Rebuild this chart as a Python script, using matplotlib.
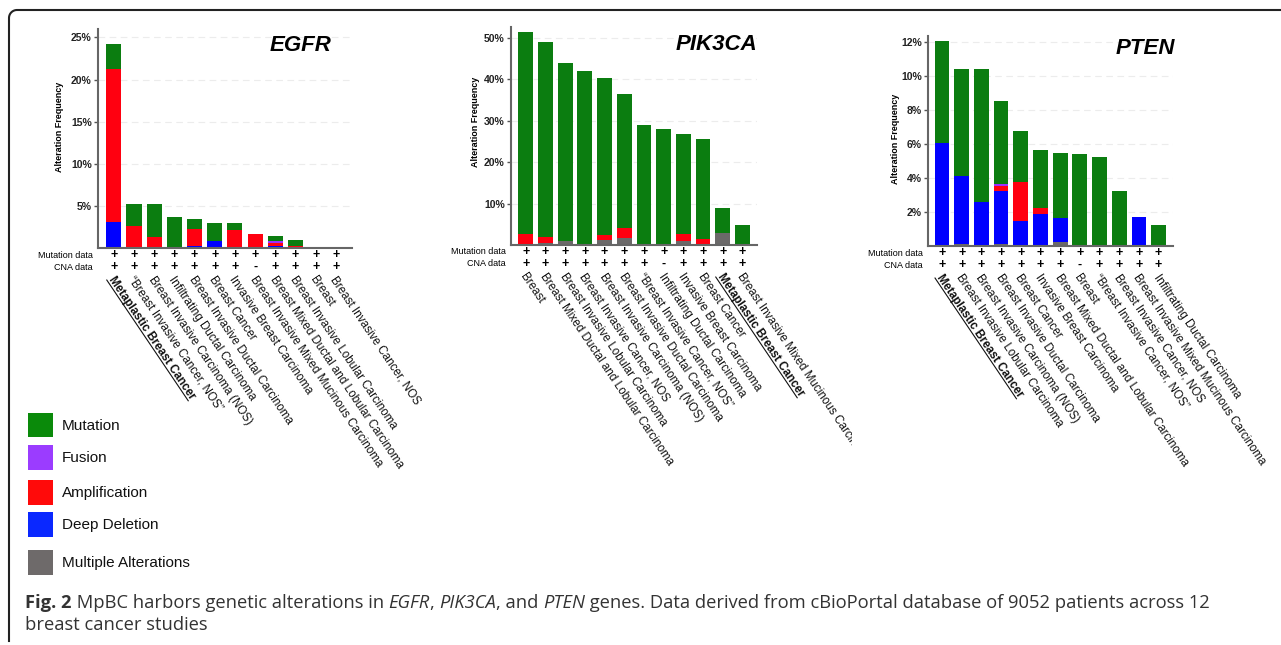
import numpy as np
import matplotlib.pyplot as plt
from matplotlib.patches import Rectangle
from matplotlib.lines import Line2D
from matplotlib.transforms import Bbox, IdentityTransform

plt.rcParams['font.family'] = ['Liberation Sans', 'DejaVu Sans']

W, H = 1281, 645

# ---- data (alteration frequency, %) ----
alt_types = ['Mutation', 'Fusion', 'Amplification', 'Deep Deletion', 'Multiple Alterations']
alt_colors = ['#0b7d10', '#9b30ff', '#ff0010', '#0000ff', '#6b6969']
legend_colors = ['#0a8a0a', '#9b3cff', '#ff0a0a', '#0a28ff', '#6e6a6a']

egfr_labels = ['Metaplastic Breast Cancer', '\u201cBreast Invasive Cancer, NOS\u201d',
               'Breast Invasive Carcinoma (NOS)', 'Infiltrating Ductal Carcinoma',
               'Breast Invasive Ductal Carcinoma', 'Breast Cancer', 'Invasive Breast Carcinoma',
               'Breast Invasive Mixed Mucinous Carcinoma', 'Breast Mixed Ductal and Lobular Carcinoma',
               'Breast Invasive Lobular Carcinoma', 'Breast', 'Breast Invasive Cancer, NOS']
egfr_cna = ['+', '+', '+', '+', '+', '+', '+', '-', '+', '+', '+', '+']
egfr_mut = [3.05, 2.68, 3.9, 3.65, 1.19, 2.2, 0.84, 0, 0.6, 0.74, 0, 0]
egfr_fus = [0, 0, 0, 0, 0, 0, 0, 0, 0.23, 0, 0, 0]
egfr_amp = [18.14, 2.6, 1.3, 0, 2.02, 0, 2.04, 1.67, 0.36, 0.2, 0, 0]
egfr_del = [3.06, 0, 0, 0, 0.24, 0.8, 0.1, 0, 0.24, 0.05, 0, 0]
egfr_mult = [0] * 12

pik_labels = ['Breast', 'Breast Mixed Ductal and Lobular Carcinoma', 'Breast Invasive Lobular Carcinoma',
              'Breast Invasive Cancer, NOS', 'Breast Invasive Carcinoma (NOS)',
              'Breast Invasive Ductal Carcinoma', '\u201cBreast Invasive Cancer, NOS\u201d',
              'Infiltrating Ductal Carcinoma', 'Invasive Breast Carcinoma', 'Breast Cancer',
              'Metaplastic Breast Cancer', 'Breast Invasive Mixed Mucinous Carcinoma']
pik_cna = ['+', '+', '+', '+', '+', '+', '+', '-', '+', '+', '+', '+']
pik_mut = [48.93, 47.25, 42.9, 42.0, 37.8, 32.5, 28.9, 28.1, 24.13, 24.13, 6.0, 4.8]
pik_fus = [0] * 12
pik_amp = [2.57, 1.45, 0.1, 0, 1.2, 2.4, 0, 0, 1.67, 1.37, 0, 0]
pik_del = [0] * 12
pik_mult = [0, 0.4, 0.9, 0, 1.3, 1.6, 0, 0, 0.9, 0, 3.0, 0]

pten_labels = ['Metaplastic Breast Cancer', 'Breast Invasive Lobular Carcinoma',
               'Breast Invasive Carcinoma (NOS)', 'Breast Invasive Ductal Carcinoma', 'Breast Cancer',
               'Invasive Breast Carcinoma', 'Breast Mixed Ductal and Lobular Carcinoma', 'Breast',
               '\u201cBreast Invasive Cancer, NOS\u201d', 'Breast Invasive Cancer, NOS',
               'Breast Invasive Mixed Mucinous Carcinoma', 'Infiltrating Ductal Carcinoma']
pten_cna = ['+', '+', '+', '+', '+', '+', '+', '-', '+', '+', '+', '+']
pten_mut = [6.06, 6.29, 7.8, 4.89, 2.99, 3.4, 3.82, 5.41, 5.27, 3.24, 0, 1.22]
pten_fus = [0, 0, 0, 0.12, 0, 0, 0, 0, 0, 0, 0, 0]
pten_amp = [0, 0, 0, 0.34, 2.28, 0.37, 0, 0, 0, 0, 0, 0]
pten_del = [6.04, 4.05, 2.6, 3.12, 1.5, 1.89, 1.39, 0, 0, 0, 1.69, 0]
pten_mult = [0, 0.1, 0, 0.1, 0, 0, 0.24, 0, 0, 0, 0, 0]

egfr_ticks = [5, 10, 15, 20, 25]
pik_ticks = [10, 20, 30, 40, 50]
pten_ticks = [2, 4, 6, 8, 10, 12]

# caption pieces: (text, weight, style)
caption1 = [('Fig. 2', 'bold', 'normal'), (' MpBC harbors genetic alterations in ', 'normal', 'normal'),
            ('EGFR', 'normal', 'italic'), (', ', 'normal', 'normal'), ('PIK3CA', 'normal', 'italic'),
            (', and ', 'normal', 'normal'), ('PTEN', 'normal', 'italic'),
            (' genes. Data derived from cBioPortal database of 9052 patients across 12', 'normal', 'normal')]
caption2 = 'breast cancer studies'


def px(x, y):
    return x / W, 1 - y / H


fig = plt.figure(figsize=(W / 100, H / 100), dpi=100)
renderer = fig.canvas.get_renderer()

panels = [
    # gene, rect(px: left, top, right, bottom), xlim, ylim, ticks, labels, cna, layers, title pos, ylabel pos, clip
    ('EGFR', (98, 29, 352, 248), (-0.78, 11.8), 26.0, egfr_ticks, egfr_labels, egfr_cna,
     [egfr_mult, egfr_del, egfr_amp, egfr_fus, egfr_mut], (0.92, 0.925), (-0.134, 0.553), None),
    ('PIK3CA', (511, 27, 757, 245), (-0.75, 11.74), 52.6, pik_ticks, pik_labels, pik_cna,
     [pik_mult, pik_del, pik_amp, pik_fus, pik_mut], (1.0, 0.92), (-0.126, 0.564), 852),
    ('PTEN', (928, 36, 1173, 246), (-0.71, 11.73), 12.37, pten_ticks, pten_labels, pten_cna,
     [pten_mult, pten_del, pten_amp, pten_fus, pten_mut], (1.008, 0.94), (-0.114, 0.51), None),
]
layer_colors = [alt_colors[4], alt_colors[3], alt_colors[2], alt_colors[1], alt_colors[0]]
rot = -56
lab_fs = 8.4
lab_off = (2, -26)

for gene, rect, xlim, ymax, ticks, labels, cna, layers, tpos, ypos, clip in panels:
    l, t, r, b = rect
    ax = fig.add_axes([l / W, 1 - b / H, (r - l) / W, (b - t) / H])
    x = np.arange(len(labels))
    bottom = np.zeros(len(labels))
    for vals, col in zip(layers, layer_colors):
        ax.bar(x, vals, 0.75, bottom=bottom, color=col, zorder=2, linewidth=0)
        bottom += np.array(vals)
    ax.set_xlim(*xlim)
    ax.set_ylim(0, ymax)
    for tk in ticks:
        ax.axhline(tk, color='#ececec', ls=(0, (6, 4)), lw=0.8, zorder=0)
    ax.set_yticks(ticks)
    ax.set_yticklabels([f'{tk}%' for tk in ticks], fontweight='bold', fontsize=7.5, color='#222')
    ax.set_xticks([])
    ax.tick_params(axis='y', length=3, width=1, color='#555', pad=1.5)
    for s in ['top', 'right']:
        ax.spines[s].set_visible(False)
    for s in ['left', 'bottom']:
        ax.spines[s].set_color('#666')
        ax.spines[s].set_linewidth(1.5)
    ax.set_ylabel('Alteration Frequency', fontweight='bold', fontsize=6.5)
    ax.yaxis.set_label_coords(*ypos)
    ax.text(tpos[0], tpos[1], gene, transform=ax.transAxes, ha='right', va='center',
            fontsize=16, fontweight='bold', fontstyle='italic')

    # row labels
    ax.annotate('Mutation data', xy=(0, 0), xycoords='axes fraction', xytext=(-5, -7),
                textcoords='offset pixels', ha='right', va='center', fontsize=6.5)
    ax.annotate('CNA data', xy=(0, 0), xycoords='axes fraction', xytext=(-5, -19),
                textcoords='offset pixels', ha='right', va='center', fontsize=6.5)
    for i in range(len(labels)):
        ax.annotate('+', xy=(i, 0), xycoords=('data', 'axes fraction'), xytext=(0, -7),
                    textcoords='offset pixels', ha='center', va='center', fontsize=9, fontweight='bold')
        ax.annotate(cna[i], xy=(i, 0), xycoords=('data', 'axes fraction'), xytext=(0, -19),
                    textcoords='offset pixels', ha='center', va='center', fontsize=9, fontweight='bold')

    # rotated category labels
    yd = ax.transAxes.transform((0, 0))[1]
    for i, lab in enumerate(labels):
        bold = lab.startswith('Metaplastic')
        txt = ax.annotate(lab, xy=(i, 0), xycoords=('data', 'axes fraction'), xytext=lab_off,
                          textcoords='offset pixels', rotation=rot, rotation_mode='anchor',
                          ha='left', va='top', fontsize=lab_fs, color='#111',
                          fontweight='bold' if bold else 'normal', annotation_clip=False)
        if clip is not None:
            txt.set_clip_on(True)
            txt.set_clip_box(Bbox([[0, 0], [clip, H]]))
        if bold:
            tmp = fig.text(0, 0, lab, fontsize=lab_fs, fontweight='bold')
            bb = tmp.get_window_extent(renderer)
            tmp.remove()
            xd = ax.transData.transform((i, 0))[0]
            anchor = np.array([xd + lab_off[0], yd + lab_off[1]])
            th = np.deg2rad(rot)
            u = np.array([np.cos(th), np.sin(th)])
            n = np.array([np.sin(th), -np.cos(th)])
            p0 = anchor + n * bb.height * 0.9
            p1 = p0 + u * bb.width
            fig.add_artist(Line2D([p0[0], p1[0]], [p0[1], p1[1]], transform=IdentityTransform(),
                                  color='#111', lw=0.8))

# legend
leg_rows = [(413, 437), (445, 470), (480, 505), (512, 537), (550, 575)]
for name, col, (yt, yb) in zip(alt_types, legend_colors, leg_rows):
    x0, y0 = px(28, yb)
    fig.add_artist(Rectangle((x0, y0), 25 / W, (yb - yt) / H, transform=fig.transFigure,
                             color=col, lw=0))
    fig.text(*px(62, (yt + yb) / 2 + 1), name, va='center', ha='left', fontsize=11, color='#111')

# caption, written piece by piece so bold / italic runs line up
cap_fs = 13.2
cap_kw = dict(fontsize=cap_fs, family='Open Sans', color='#333')


def run_width(s, weight, style):
    # pad with bars so leading/trailing spaces are counted
    t1 = fig.text(0, 0, '|' + s + '|', fontweight=weight, fontstyle=style, **cap_kw)
    t2 = fig.text(0, 0, '||', fontweight=weight, fontstyle=style, **cap_kw)
    w = t1.get_window_extent(renderer).width - t2.get_window_extent(renderer).width
    t1.remove()
    t2.remove()
    return w


xpos = 25
for s, weight, style in caption1:
    fig.text(*px(xpos, 608), s, va='baseline', ha='left', fontweight=weight, fontstyle=style, **cap_kw)
    xpos += run_width(s, weight, style)
fig.text(*px(25, 630), caption2, va='baseline', ha='left', **cap_kw)

# frame (top and left edges with rounded corners)
rad = 8
ang = np.linspace(np.pi, np.pi / 2, 20)
fx = np.concatenate([[9, 9], 9 + rad + rad * np.cos(ang), [W]])
fy = np.concatenate([[H - 4, 10 + rad], 10 + rad - rad * np.sin(ang), [10]])
fig.add_artist(Line2D(fx / W, 1 - fy / H, transform=fig.transFigure, color='#222', lw=1.5))

fig.savefig('out.png', dpi=100)
